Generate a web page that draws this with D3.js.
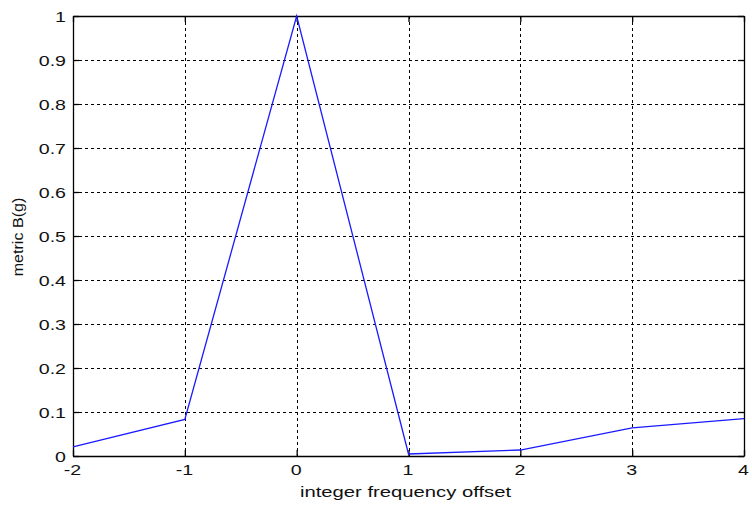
<!DOCTYPE html>
<html>
<head>
<meta charset="utf-8">
<script src="https://cdn.jsdelivr.net/npm/d3@7"></script>
<style>
  html, body { margin: 0; padding: 0; background: #fff; }
  svg { display: block; }
  text { font-family: "Liberation Sans", Arial, sans-serif; }
</style>
</head>
<body>
<svg id="chart" width="752" height="506"></svg>
<script>
// Integer frequency offsets and the metric value at each one
const offsets = [-2, -1, 0, 1, 2, 3, 4];
const metric = [0.021, 0.083, 1.0, 0.0045, 0.0136, 0.064, 0.085];
const xTicks = [-2, -1, 0, 1, 2, 3, 4];
const yTicks = [0, 0.1, 0.2, 0.3, 0.4, 0.5, 0.6, 0.7, 0.8, 0.9, 1];
const xLabel = "integer frequency offset";
const yLabel = "metric B(g)";

const svg = d3.select("#chart");
const margin = { left: 73, right: 8, top: 16, bottom: 50 };
const W = 752, H = 506;
const x = d3.scaleLinear().domain([-2, 4]).range([margin.left, W - margin.right]);
const y = d3.scaleLinear().domain([0, 1]).range([H - margin.bottom, margin.top]);

const x0 = x.range()[0], x1 = x.range()[1];
const y0 = y.range()[0], y1 = y.range()[1];

// Dashed grid
const grid = svg.append("g").attr("stroke", "#000").attr("stroke-width", 1)
  .attr("stroke-dasharray", "3,3").attr("shape-rendering", "crispEdges");
grid.selectAll("line.v").data(xTicks.slice(1, -1)).join("line")
  .attr("x1", d => Math.round(x(d)) + 0.5).attr("x2", d => Math.round(x(d)) + 0.5)
  .attr("y1", y1).attr("y2", y0);
grid.selectAll("line.h").data(yTicks.slice(1, -1)).join("line")
  .attr("y1", d => Math.round(y(d)) + 0.5).attr("y2", d => Math.round(y(d)) + 0.5)
  .attr("x1", x0).attr("x2", x1);

// Axes: ticks point inward on every side of the box; labels use a plain hyphen
const tickLen = 6;
const fmt = d => String(d);
const axBottom = svg.append("g").attr("transform", `translate(0,${y0})`)
  .call(d3.axisBottom(x).tickValues(xTicks).tickFormat(fmt).tickSizeInner(-tickLen).tickSizeOuter(0));
const axLeft = svg.append("g").attr("transform", `translate(${x0},0)`)
  .call(d3.axisLeft(y).tickValues(yTicks).tickFormat(fmt).tickSizeInner(-tickLen).tickSizeOuter(0));
const axTop = svg.append("g").attr("transform", `translate(0,${y1})`)
  .call(d3.axisTop(x).tickValues(xTicks).tickFormat("").tickSizeInner(-tickLen).tickSizeOuter(0));
const axRight = svg.append("g").attr("transform", `translate(${x1},0)`)
  .call(d3.axisRight(y).tickValues(yTicks).tickFormat("").tickSizeInner(-tickLen).tickSizeOuter(0));

[axBottom, axLeft, axTop, axRight].forEach(g => {
  g.select(".domain").attr("stroke", "#000").attr("stroke-width", 1.3);
  g.selectAll(".tick line").attr("stroke", "#000").attr("stroke-width", 1.3);
  g.selectAll(".tick text").attr("fill", "#111").attr("font-size", 14)
    .attr("font-family", "'Liberation Sans', Arial, sans-serif");
});
// Wide tick lettering
axLeft.selectAll(".tick text").attr("x", 0).attr("dy", "0.36em")
  .attr("transform", "translate(-7,0) scale(1.4,1)");
axBottom.selectAll(".tick text").attr("y", 0).attr("dy", "0.71em")
  .attr("transform", "translate(-1,9) scale(1.4,1)");

// Data line
const line = d3.line().x((d, i) => x(offsets[i])).y(d => y(d));
svg.append("path").datum(metric)
  .attr("fill", "none").attr("stroke", "#1a1aff").attr("stroke-width", 1.3)
  .attr("stroke-linejoin", "miter").attr("d", line);

// Axis titles
svg.append("text")
  .attr("transform", `translate(${(x0 + x1) / 2 - 3},497) scale(1.35,1)`)
  .attr("text-anchor", "middle").attr("font-size", 15).attr("fill", "#111").text(xLabel);
svg.append("text").attr("transform", `translate(23,${(y0 + y1) / 2 + 1}) rotate(-90) scale(1.15,1)`)
  .attr("text-anchor", "middle").attr("font-size", 14).attr("fill", "#111").text(yLabel);
</script>
</body>
</html>
